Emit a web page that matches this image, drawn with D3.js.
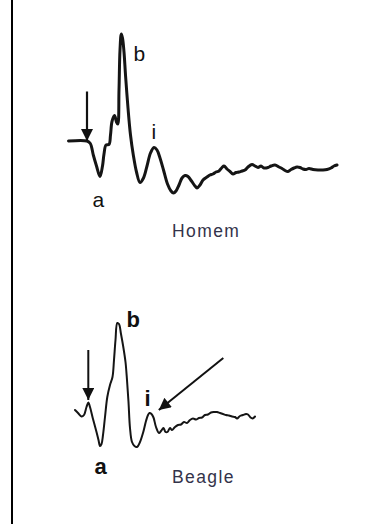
<!DOCTYPE html>
<html>
<head>
<meta charset="utf-8">
<script src="https://cdn.jsdelivr.net/npm/d3@7/dist/d3.min.js"></script>
<style>
  html, body { margin: 0; padding: 0; background: #fff; }
  svg { display: block; }
</style>
</head>
<body>
<script>
// ERG flash responses: human (Homem) and dog (Beagle).
// Time in ms from the stimulus, amplitude in µV relative to the pre-flash baseline.

const homemTime = [0.25, 9.5, 11.15, 12.65, 14.25, 16, 17.25, 18, 19, 20.5, 21.25, 22, 23.25, 24.25, 24.9,
  25.5, 26, 26.65, 27.25, 28, 28.75, 30, 31.25, 32.65, 34.25, 36, 37.75, 39.5, 41.25, 43, 44.5, 46,
  47.75, 49.75, 51.5, 52.75, 54, 55.5, 57, 58.5, 60, 61.75, 63.5, 64.5, 66, 67.5, 69.5, 71, 72.5, 74,
  75.5, 77, 78, 79.5, 81, 82.5, 84, 85.5, 87, 88.5, 90, 92, 93.5, 95, 96.5, 98, 100, 101.5, 103.5,
  105.5, 107, 108.5, 110, 111.5, 113, 114.5, 116, 117.5, 119, 120.5, 122.5, 125, 127.5, 129.5, 131.5,
  133, 134.5];
const homemAmp = [0, 0, -5, -28, -50, -71, -50, -26, -8, -7, 12, 39, 51, 38, 34,
  102, 182, 214, 206, 178, 132, 66, 12, -28, -62, -83, -74, -50, -24, -13, -18, -34,
  -58, -86, -100, -104, -100, -88, -74, -69, -71, -80, -90, -94, -88, -78, -72, -68, -66, -62,
  -60, -53, -50, -56, -61, -66, -63, -62, -60, -58, -52, -47, -50, -53, -50, -54, -53, -50, -48,
  -52, -55, -59, -61, -57, -54, -52, -53, -56, -57, -55, -57, -58, -58, -57, -54,
  -50, -48];

const beagleTime = [0, 1.5, 3.25, 4.5, 5.75, 6.65, 7.5, 9, 10.75, 11.75, 12.5, 13.25, 14, 15, 16.15,
  17.5, 18.75, 19.5, 20.25, 21.15, 22, 23, 24.15, 25.25, 26, 26.75, 27.5, 28.5, 29.75, 31, 32.5, 34,
  35.5, 36.5, 37.25, 38.25, 39.25, 40.5, 42, 43, 44.25, 45.25, 46.25, 47.5, 48.5, 50, 51.5, 53, 54.5,
  56, 57.5, 59, 60.5, 62, 63.5, 65, 66.5, 68, 69.5, 71, 72.5, 74, 75.5, 77, 78.5, 80, 81, 82.5, 84,
  85.5, 86.5, 87.75, 88.75, 90];
const beagleAmp = [0, -6, -13, -10, 6, 15, 6, -18, -44, -60, -72, -68, -50, -14, 26,
  50, 66, 100, 140, 174, 172, 152, 126, 96, 60, 16, -36, -64, -72, -74, -64, -46,
  -22, -10, -6, -8, -15, -34, -46, -42, -36, -44, -44, -36, -40, -34, -30, -29, -24,
  -26, -20, -17, -19, -16, -15, -10, -9, -5, -4, -4, -6, -8, -10, -11, -13, -14, -17, -12,
  -10, -8, -9, -15, -17, -13];

// Component labels: [text, time, amplitude]
const homemLabels = [["a", 12.3, -131], ["b", 32.8, 160], ["i", 41.8, 4]];
const beagleLabels = [["a", 9.7, -128], ["b", 25.8, 166], ["i", 34.8, 8]];

// Stimulus markers and the arrow pointing at the i-wave: [t0, v0, t1, v1] (tail -> tip)
const homemArrows = [[9.5, 99, 9.5, 0]];
const beagleArrows = [[6.65, 120, 6.65, 20], [74.15, 104, 41.9, 0]];

const W = 365, H = 524;
const svg = d3.select("body").append("svg")
  .attr("width", W).attr("height", H)
  .attr("viewBox", `0 0 ${W} ${H}`);

svg.append("rect").attr("width", W).attr("height", H).attr("fill", "#fff");

// frame edge on the left
svg.append("line")
  .attr("x1", 12).attr("x2", 12).attr("y1", 0).attr("y2", H)
  .attr("stroke", "#000").attr("stroke-width", 2);

const defs = svg.append("defs");
defs.append("marker")
  .attr("id", "headBig")
  .attr("viewBox", "0 0 10 10")
  .attr("refX", 10).attr("refY", 5)
  .attr("markerWidth", 13).attr("markerHeight", 12)
  .attr("markerUnits", "userSpaceOnUse")
  .attr("orient", "auto")
  .append("path")
  .attr("d", "M0,0 L10,5 L0,10 Z")
  .attr("fill", "#111");

function panel(cfg) {
  const x = d3.scaleLinear().domain(cfg.tDomain).range(cfg.xRange);
  const y = d3.scaleLinear().domain(cfg.vDomain).range(cfg.yRange);
  const g = svg.append("g");

  const pts = cfg.time.map((t, i) => [t, cfg.amp[i]]);
  const line = d3.line()
    .x(d => x(d[0])).y(d => y(d[1]))
    .curve(d3.curveCatmullRom.alpha(0.5));

  g.append("path")
    .attr("d", line(pts))
    .attr("fill", "none")
    .attr("stroke", "#151515")
    .attr("stroke-width", cfg.lineWidth)
    .attr("stroke-linejoin", "round")
    .attr("stroke-linecap", "round");

  g.selectAll("line.arrow").data(cfg.arrows).join("line")
    .attr("class", "arrow")
    .attr("x1", d => x(d[0])).attr("y1", d => y(d[1]))
    .attr("x2", d => x(d[2])).attr("y2", d => y(d[3]))
    .attr("stroke", "#111")
    .attr("stroke-width", cfg.arrowWidth)
    .attr("marker-end", "url(#headBig)");

  g.selectAll("text.lab").data(cfg.labels).join("text")
    .attr("class", "lab")
    .attr("x", d => x(d[1])).attr("y", d => y(d[2]))
    .attr("font-family", "Liberation Sans, Arial, sans-serif")
    .attr("font-size", cfg.labelSize)
    .attr("font-weight", cfg.labelWeight)
    .attr("fill", "#111")
    .text(d => d[0]);

  g.append("text")
    .attr("x", cfg.title[1]).attr("y", cfg.title[2])
    .attr("font-family", "Liberation Sans, Arial, sans-serif")
    .attr("font-size", 17.5)
    .attr("letter-spacing", 1.4)
    .attr("fill", "#33334a")
    .text(cfg.title[0]);
}

panel({
  time: homemTime, amp: homemAmp,
  tDomain: [0, 135], xRange: [68, 338],
  vDomain: [-100, 200], yRange: [191, 41],
  lineWidth: 3, arrowWidth: 2.2,
  arrows: homemArrows, labels: homemLabels,
  labelSize: 21, labelWeight: "normal",
  title: ["Homem", 172, 237]
});

panel({
  time: beagleTime, amp: beagleAmp,
  tDomain: [0, 90], xRange: [75, 255],
  vDomain: [-100, 200], yRange: [460, 310],
  lineWidth: 2, arrowWidth: 2,
  arrows: beagleArrows, labels: beagleLabels,
  labelSize: 22, labelWeight: "bold",
  title: ["Beagle", 172, 483]
});
</script>
</body>
</html>
